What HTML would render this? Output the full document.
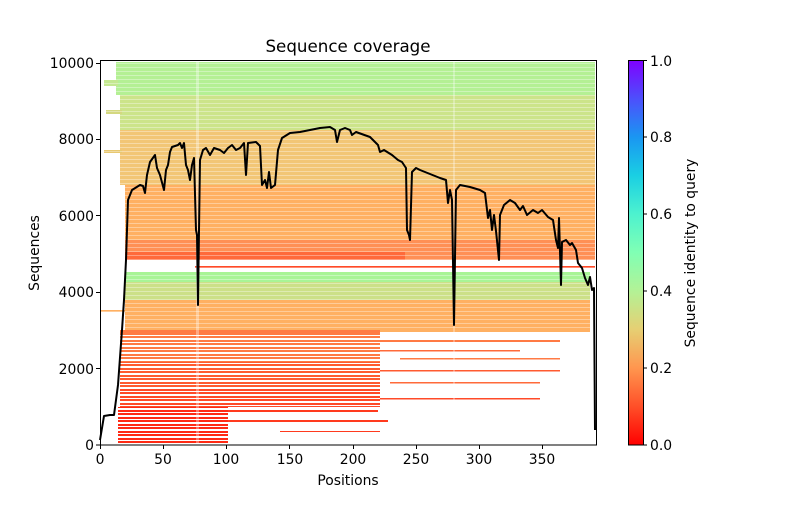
<!DOCTYPE html>
<html><head><meta charset="utf-8"><style>body{margin:0;background:#fff}svg text{font-family:"DejaVu Sans","Liberation Sans",sans-serif;fill:#000}</style></head>
<body>
<svg width="800" height="500" xmlns="http://www.w3.org/2000/svg">
<defs>
<linearGradient id="cb" x1="0" y1="1" x2="0" y2="0">
<stop offset="0" stop-color="#ff0000"/><stop offset="0.1" stop-color="#ff4f28"/><stop offset="0.2" stop-color="#ff964f"/><stop offset="0.3" stop-color="#e6cf73"/><stop offset="0.4" stop-color="#b3f296"/><stop offset="0.5" stop-color="#80ffb4"/><stop offset="0.6" stop-color="#4df2cf"/><stop offset="0.7" stop-color="#1acfe3"/><stop offset="0.8" stop-color="#1a96f2"/><stop offset="0.9" stop-color="#4d4ffc"/><stop offset="1" stop-color="#8000ff"/>
</linearGradient>
<pattern id="gaps" width="6" height="4" patternUnits="userSpaceOnUse"><rect width="6" height="1" y="3" fill="#fff" opacity="0.35"/></pattern>
<pattern id="gaps2" width="8" height="7" patternUnits="userSpaceOnUse"><rect width="8" height="2" y="2" fill="#fff"/><rect width="8" height="1" y="6" fill="#fff"/></pattern>
</defs>
<text x="348" y="52" font-size="16.7" text-anchor="middle">Sequence coverage</text>
<g>
<rect x="116" y="62" width="479" height="33" fill="#b4f094"/>
<rect x="104" y="80" width="14" height="6" fill="#c4e890"/>
<rect x="120" y="95" width="475" height="35" fill="#cce48a"/>
<rect x="106" y="110" width="16" height="4" fill="#d4d880"/>
<rect x="120" y="130" width="475" height="55" fill="#f2c676"/>
<rect x="104" y="150" width="18" height="3" fill="#e8c870"/>
<rect x="125" y="185" width="470" height="55" fill="#ffb062"/>
<rect x="125" y="240" width="470" height="20" fill="#ff9055"/>
<rect x="125" y="252" width="280" height="8" fill="#ff6a3a"/>
<rect x="150" y="262" width="440" height="8" fill="#fff"/>
<rect x="195" y="266" width="400" height="2" fill="#ff4a28"/>
<rect x="125" y="272" width="465" height="10" fill="#a8f496"/>
<rect x="125" y="282" width="465" height="18" fill="#cce088"/>
<rect x="125" y="300" width="465" height="32" fill="#ffb062"/>
<rect x="100" y="310" width="25" height="2" fill="#ffb062"/>
<rect x="120" y="330" width="260" height="32" fill="#ff7a44"/>
<rect x="380" y="340" width="180" height="2" fill="#ff7a44"/>
<rect x="380" y="350" width="140" height="1.5" fill="#ff6a3a"/>
<rect x="400" y="358" width="160" height="1.5" fill="#ff7a44"/>
<rect x="120" y="362" width="260" height="25" fill="#ff5a30"/>
<rect x="380" y="370" width="180" height="1.5" fill="#ff5a30"/>
<rect x="390" y="382" width="150" height="1.5" fill="#ff6a3a"/>
<rect x="120" y="387" width="260" height="20" fill="#ff4a28"/>
<rect x="300" y="398" width="240" height="1.5" fill="#ff4a28"/>
<rect x="118" y="407" width="110" height="37" fill="#ff2a14"/>
<rect x="228" y="410" width="150" height="2" fill="#ff3a1e"/>
<rect x="228" y="420" width="160" height="2" fill="#ff3a1e"/>
<rect x="280" y="430" width="100" height="2" fill="#ff3a1e"/>
<rect x="100" y="60" width="496" height="270" fill="url(#gaps)"/>
<rect x="118" y="335" width="262" height="110" fill="url(#gaps2)"/>
<rect x="196" y="60" width="3" height="385" fill="#fff" opacity="0.35"/>
<rect x="453" y="60" width="2" height="385" fill="#fff" opacity="0.3"/>
</g>
<polyline fill="none" stroke="#000" stroke-width="2" stroke-linejoin="round" points="100,440 104,416 110,415 114,415 116,400 118,385 122,330 124,300 126,260 128,200 132,190 140,185 143,186 145,193 147,175 150,162 155,155 157,168 160,175 164,190 166,170 168,165 170,152 172,147 178,145 180,143 182,148 184,143 186,165 188,170 190,180 192,165 194,158 196,230 197,235 198,305 199,230 200,160 203,150 206,148 210,155 214,148 220,150 224,153 228,148 232,145 236,150 240,148 244,143 246,175 248,143 256,142 260,146 262,185 265,180 267,188 269,172 271,188 275,185 278,150 282,138 290,133 300,132 310,130 320,128 330,127 335,130 337,142 340,130 345,128 350,130 352,135 356,132 370,137 378,145 380,152 384,150 392,155 398,160 402,162 406,168 407,230 409,235 410,240 412,172 416,168 420,170 430,174 440,178 446,180 448,203 450,190 452,200 454,325 456,190 460,185 470,187 480,190 485,193 488,218 490,210 492,230 494,215 496,231 499,260 500,215 504,205 510,200 515,203 520,210 523,206 527,215 533,210 538,213 542,210 548,217 553,220 556,240 558,248 559,218 561,285 562,242 566,240 570,245 572,243 576,250 578,263 582,268 585,278 588,285 590,277 592,290 594,288 595,430"/>
<rect x="100.5" y="60.5" width="496" height="384.5" fill="none" stroke="#000" stroke-width="1"/>
<g stroke="#000" stroke-width="1">
<line x1="100.5" y1="445" x2="100.5" y2="449"/><line x1="163.5" y1="445" x2="163.5" y2="449"/><line x1="226.5" y1="445" x2="226.5" y2="449"/><line x1="289.5" y1="445" x2="289.5" y2="449"/><line x1="353.5" y1="445" x2="353.5" y2="449"/><line x1="416.5" y1="445" x2="416.5" y2="449"/><line x1="479.5" y1="445" x2="479.5" y2="449"/><line x1="542.5" y1="445" x2="542.5" y2="449"/>
<line x1="96" y1="445" x2="100" y2="445"/><line x1="96" y1="368.5" x2="100" y2="368.5"/><line x1="96" y1="292.5" x2="100" y2="292.5"/><line x1="96" y1="215.5" x2="100" y2="215.5"/><line x1="96" y1="139.5" x2="100" y2="139.5"/><line x1="96" y1="63.5" x2="100" y2="63.5"/>
</g>
<g font-size="13.9" text-anchor="middle">
<text x="100" y="464">0</text><text x="163" y="464">50</text><text x="226" y="464">100</text><text x="290" y="464">150</text><text x="353" y="464">200</text><text x="416" y="464">250</text><text x="479" y="464">300</text><text x="542" y="464">350</text>
<text x="348" y="485">Positions</text>
</g>
<g font-size="13.9" text-anchor="end">
<text x="94" y="450">0</text><text x="94" y="374">2000</text><text x="94" y="297">4000</text><text x="94" y="221">6000</text><text x="94" y="144">8000</text><text x="94" y="68">10000</text>
</g>
<text transform="translate(39,253) rotate(-90)" font-size="13.9" text-anchor="middle">Sequences</text>
<rect x="628" y="60" width="15" height="385" fill="url(#cb)"/>
<rect x="628.5" y="60.5" width="15" height="384.5" fill="none" stroke="#000"/>
<g stroke="#000"><line x1="643" y1="445" x2="647" y2="445"/><line x1="643" y1="368" x2="647" y2="368"/><line x1="643" y1="291" x2="647" y2="291"/><line x1="643" y1="214" x2="647" y2="214"/><line x1="643" y1="137" x2="647" y2="137"/><line x1="643" y1="60.5" x2="647" y2="60.5"/></g>
<g font-size="13.9"><text x="650" y="450">0.0</text><text x="650" y="373">0.2</text><text x="650" y="296">0.4</text><text x="650" y="219">0.6</text><text x="650" y="142">0.8</text><text x="650" y="66">1.0</text></g>
<text transform="translate(695,253) rotate(-90)" font-size="13.9" text-anchor="middle">Sequence identity to query</text>
</svg>
</body></html>
